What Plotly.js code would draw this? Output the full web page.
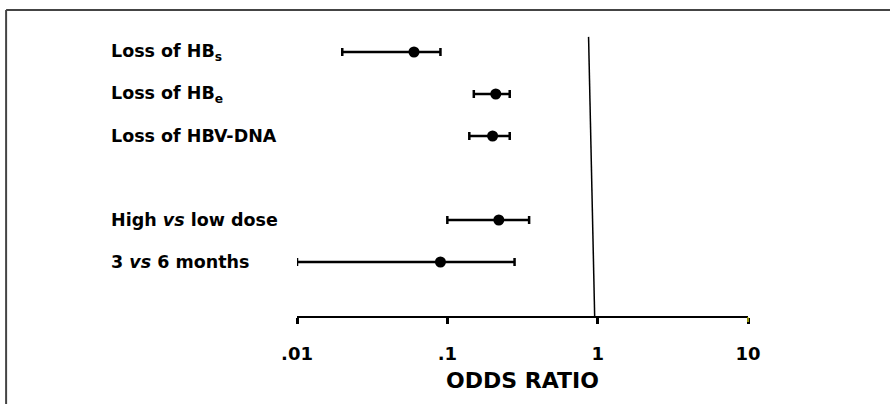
<!DOCTYPE html>
<html>
<head>
<meta charset="utf-8">
<script src="https://cdn.plot.ly/plotly-3.0.1.min.js"></script>
<style>html,body{margin:0;padding:0;background:#fff}#chart{width:890px;height:404px}</style>
</head>
<body>
<div id="chart"></div>
<script>
// Outcome labels (top to bottom) and their row positions
const labels = ["Loss of HB<sub>s</sub>", "Loss of HB<sub>e</sub>", "Loss of HBV-DNA", "High <i>vs</i> low dose", "3 <i>vs</i> 6 months"];
const rows = [6, 5, 4, 2, 1];
// Odds ratios with 95% CI bounds
const oddsRatio = [0.06, 0.21, 0.20, 0.22, 0.09];
const ciLow = [0.02, 0.15, 0.14, 0.10, 0.01];
const ciHigh = [0.09, 0.26, 0.26, 0.35, 0.28];
// Axis ticks
const tickValues = [0.01, 0.1, 1, 10];
const tickLabels = [".01", ".1", "1", "10"];
// Reference (no-effect) line, drawn slightly slanted as in the original
const refLineX = [0.87, 0.955];
const refLineY = [6.36, -0.286];

const FONT = "'DejaVu Sans', Arial, sans-serif";

const trace = {
  x: oddsRatio,
  y: rows,
  type: "scatter",
  mode: "markers",
  marker: {color: "#000", size: 11, symbol: "circle"},
  error_x: {
    type: "data",
    symmetric: false,
    array: oddsRatio.map((v, i) => ciHigh[i] - v),
    arrayminus: oddsRatio.map((v, i) => v - ciLow[i]),
    color: "#000",
    thickness: 2.5,
    width: 4
  },
  hoverinfo: "x+y"
};

const refTrace = {
  x: refLineX,
  y: refLineY,
  type: "scatter",
  mode: "lines",
  line: {color: "#000", width: 1.5},
  hoverinfo: "skip",
  cliponaxis: false
};

const annotations = labels.map((t, i) => ({
  text: t,
  x: -0.417,
  xref: "paper",
  y: rows[i],
  yref: "y",
  xanchor: "left",
  yanchor: "middle",
  showarrow: false,
  font: {family: FONT, size: 17.5, color: "#000", weight: "bold"}
}));

const layout = {
  width: 890,
  height: 404,
  margin: {l: 297, r: 142, t: 20, b: 88},
  paper_bgcolor: "#fff",
  plot_bgcolor: "#fff",
  showlegend: false,
  xaxis: {
    type: "log",
    range: [-2, 1],
    tickvals: tickValues,
    ticktext: tickLabels,
    ticks: "outside",
    ticklen: 6,
    tickwidth: 3,
    tickcolor: "#000",
    showline: true,
    linecolor: "#000",
    linewidth: 2,
    showgrid: false,
    zeroline: false,
    ticklabelstandoff: 14,
    tickfont: {family: FONT, size: 18, color: "#000", weight: "bold"},
    title: {text: "ODDS RATIO", font: {family: FONT, size: 22, color: "#000", weight: "bold"}, standoff: 10},
    automargin: false,
    fixedrange: true
  },
  yaxis: {
    range: [-0.286, 6.762],
    visible: false,
    showgrid: false,
    zeroline: false,
    fixedrange: true
  },
  annotations: annotations,
  shapes: [
    {type: "line", xref: "paper", yref: "paper", x0: -0.645, x1: 1.315, y0: 1.0338, y1: 1.0338, line: {color: "#444", width: 2}},
    {type: "line", xref: "paper", yref: "paper", x0: -0.645, x1: -0.645, y0: 1.0338, y1: -0.35, line: {color: "#444", width: 2}},
    {type: "rect", xref: "paper", yref: "paper", x0: 0.9985, x1: 1.0015, y0: -0.004, y1: -0.02, fillcolor: "#d8d800", line: {width: 0}}
  ]
};

Plotly.newPlot("chart", [refTrace, trace], layout, {displayModeBar: false, staticPlot: true});
</script>
</body>
</html>
